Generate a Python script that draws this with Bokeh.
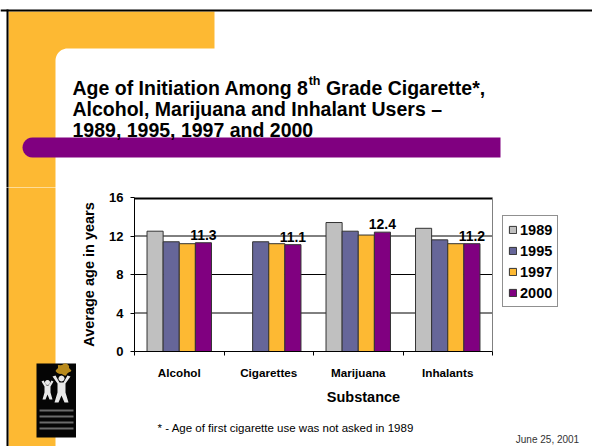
import math
import numpy as np
from bokeh.plotting import figure
from bokeh.layouts import column, row
from bokeh.models import (Range1d, FixedTicker, ColumnDataSource, Legend, LegendItem)
from bokeh.transform import dodge
from bokeh.core.properties import value
from bokeh.embed import file_html
from bokeh.resources import INLINE

# ---------------- data ----------------
categories = ["Alcohol", "Cigarettes", "Marijuana", "Inhalants"]
years = ["1989", "1995", "1997", "2000"]
age_1989 = [12.5, float("nan"), 13.4, 12.8]   # not asked for cigarettes in 1989
age_1995 = [11.4, 11.4, 12.5, 11.6]
age_1997 = [11.2, 11.2, 12.1, 11.2]
age_2000 = [11.3, 11.1, 12.4, 11.2]
y_ticks = [0, 4, 8, 12, 16]
y_max = 16

title_line1a = "Age of Initiation Among 8"
title_sup = "th"
title_line1b = "Grade Cigarette*,"
title_line2 = "Alcohol, Marijuana and Inhalant Users \u2013"
title_line3 = "1989, 1995, 1997 and 2000"
x_title = "Substance"
y_title = "Average age in years"
footnote = "* - Age of first cigarette use was not asked in 1989"
date_text = "June 25, 2001"

series_colors = ["#C0C0C0", "#666699", "#FDB933", "#800080"]
FONT = "Liberation Sans"
ORANGE = "#FDB933"
PURPLE = "#800080"

n_cat = len(categories)
cat_centers = [i + 0.5 for i in range(n_cat)]   # category slots on a 0..n axis
cat_edges = list(range(n_cat + 1))


# ---------------- helpers for the slide decoration panels ----------------
def panel(x0, y0, w, h):
    """A plain drawing surface whose data units are page pixels (y down)."""
    f = figure(width=w, height=h, x_range=Range1d(x0, x0 + w), y_range=Range1d(y0 + h, y0),
               output_backend="svg", toolbar_location=None, title=None,
               x_axis_location=None, y_axis_location=None, min_border=0)
    f.outline_line_color = None
    f.background_fill_color = "white"
    f.border_fill_color = "white"
    f.xgrid.grid_line_color = None
    f.ygrid.grid_line_color = None
    return f


def arc(cx, cy, r, a0, a1, n=12):
    pts = []
    for i in range(n + 1):
        a = math.radians(a0 + (a1 - a0) * i / n)
        pts.append((cx + r * math.cos(a), cy + r * math.sin(a)))
    return pts


def poly(f, pts, color, alpha=1.0):
    f.patch([q[0] for q in pts], [q[1] for q in pts], fill_color=color, fill_alpha=alpha,
            line_color=None)


def box(f, l, t, r, b, color):
    f.quad(left=l, right=r, top=t, bottom=b, fill_color=color, line_color=None)


def txt(f, x, y, s, size, bold=True, color="black", align="left"):
    f.text(x=[x], y=[y], text=[s], text_font=value(FONT), text_font_size=size,
           text_font_style="bold" if bold else "normal", text_color=color,
           text_align=align, text_baseline="alphabetic")


TOP_H = 187          # height of the title panel
LEFT_W = 76          # width of the left strip
CHART_H = 228        # height of the chart figure
BOT_H = 446 - TOP_H - CHART_H

# ---------------- top panel: border, orange band, title, purple bar ----------------
top = panel(0, 0, 592, TOP_H)
orange_top = [(8, 11), (214, 11), (214, 48), (67, 48)] + arc(67, 60, 12, 270, 180) + [(55, TOP_H + 2), (8, TOP_H + 2)]
poly(top, orange_top, ORANGE)
box(top, 0, 9, 592, 11, "black")
box(top, 6, 9, 8, TOP_H + 2, "black")
purple_pts = [(500, 137), (32, 137)] + arc(32, 147, 10, 270, 90) + [(32, 157), (500, 157)]
poly(top, purple_pts, PURPLE)

TS = 19.5
w1 = 12.112 * TS   # advance of "Age of Initiation Among 8" in Arial bold
SUP = 12.5
txt(top, 72, 87, title_line1a, "%.1fpx" % TS)
txt(top, 72 + w1, 80, title_sup, "%.1fpx" % SUP)
txt(top, 72 + w1 + 0.944 * SUP + 0.278 * TS, 87, title_line1b, "%.1fpx" % TS)
txt(top, 72, 108, title_line2, "%.1fpx" % TS)
txt(top, 72, 129, title_line3, "%.1fpx" % TS)

# ---------------- left strip: orange band and logo ----------------
left = panel(0, TOP_H, LEFT_W, 446 - TOP_H)
box(left, 8, TOP_H - 2, 55, 446, ORANGE)
box(left, 6, TOP_H - 2, 8, 446, "black")
box(left, 36, 363, 76, 437, "#050505")
poly(left, [(63 + 7 * math.cos(a) * (1 + 0.18 * math.sin(5 * a)),
             369 + 5.5 * math.sin(a) * (1 + 0.18 * math.cos(5 * a)))
            for a in np.linspace(0, 2 * math.pi, 30)], "#B88A1C")
fig_small = [(41, 381), (44, 386), (44, 392), (42, 399), (45, 399), (47, 394), (49, 399), (52, 399),
             (50, 392), (50, 386), (53, 381), (51, 380), (48, 385), (46, 385), (43, 380)]
poly(left, fig_small, "#E8E8E8")
poly(left, arc(47, 382, 2.5, 0, 360), "#E8E8E8")
fig_big = [(52, 376), (57, 383), (57, 392), (54, 402), (58, 402), (61, 395), (64, 402), (68, 402),
           (65, 392), (65, 383), (70, 376), (67, 375), (63, 382), (59, 382), (55, 375)]
poly(left, fig_big, "#E8E8E8")
poly(left, arc(61, 378, 3, 0, 360), "#E8E8E8")
for yy in (409, 415, 421, 427):
    box(left, 39, yy, 73, yy + 2, "#6A6A6A")

# ---------------- chart ----------------
frame_w_px, cat_w_px = 458, 358          # frame runs on to the page edge; bars use 358 px
x_end = n_cat * frame_w_px / cat_w_px
p = figure(width=592 - LEFT_W, height=CHART_H, x_range=Range1d(0, x_end), y_range=Range1d(0, y_max),
           output_backend="svg", toolbar_location=None, title=None,
           min_border_left=134 - LEFT_W, min_border_right=0, min_border_top=197 - TOP_H,
           min_border_bottom=TOP_H + CHART_H - 351)
p.background_fill_color = "white"
p.border_fill_color = "white"
p.outline_line_color = None
p.xgrid.grid_line_color = None
p.ygrid.grid_line_color = None

ya = p.yaxis[0]
ya.ticker = FixedTicker(ticks=y_ticks)
ya.major_tick_out = 4
ya.major_tick_in = 0
ya.minor_tick_line_color = None
ya.axis_line_color = "black"
ya.major_tick_line_color = "black"
ya.major_label_text_font = FONT
ya.major_label_text_font_style = "bold"
ya.major_label_text_font_size = "13px"
ya.major_label_text_color = "black"
ya.major_label_standoff = 7
ya.axis_label = y_title
ya.axis_label_text_font = FONT
ya.axis_label_text_font_style = "bold"
ya.axis_label_text_font_size = "14.5px"
ya.axis_label_text_color = "black"
ya.axis_label_standoff = 9

xa = p.xaxis[0]
xa.bounds = (0, n_cat)
xa.ticker = FixedTicker(ticks=cat_centers, minor_ticks=cat_edges)
xa.major_label_overrides = {c: name for c, name in zip(cat_centers, categories)}
xa.major_tick_line_color = None
xa.major_tick_out = 0
xa.major_tick_in = 0
xa.minor_tick_out = 4
xa.minor_tick_in = 0
xa.minor_tick_line_color = "black"
xa.axis_line_color = "black"
xa.major_label_text_font = FONT
xa.major_label_text_font_style = "bold"
xa.major_label_text_font_size = "11.7px"
xa.major_label_text_color = "black"
xa.major_label_standoff = 10
xa.axis_label = x_title
xa.axis_label_text_font = FONT
xa.axis_label_text_font_style = "bold"
xa.axis_label_text_font_size = "14.5px"
xa.axis_label_text_color = "black"
xa.axis_label_standoff = 7

# gridlines and plot-area border limited to the category slots
grid_levels = [t for t in y_ticks if 0 < t < y_max]
p.segment(x0=[0] * len(grid_levels), x1=[n_cat] * len(grid_levels), y0=grid_levels,
          y1=grid_levels, line_color="black", line_width=1)
p.segment(x0=[0], x1=[n_cat], y0=[y_max], y1=[y_max], line_color="black", line_width=4)
p.segment(x0=[n_cat], x1=[n_cat], y0=[0], y1=[y_max], line_color="#808080", line_width=1)

bw = 0.18
offsets = [-1.5 * bw, -0.5 * bw, 0.5 * bw, 1.5 * bw]
series = [age_1989, age_1995, age_1997, age_2000]
renderers = []
for vals, off, col in zip(series, offsets, series_colors):
    src = ColumnDataSource(dict(x=cat_centers, v=np.array(vals, dtype=float)))
    r = p.vbar(x=dodge("x", off), top="v", bottom=0, width=bw,
               source=src, fill_color=col, line_color="#333333", line_width=1)
    renderers.append(r)

lsrc = ColumnDataSource(dict(x=cat_centers, v=np.array(age_2000, dtype=float),
                             t=["%.1f" % v for v in age_2000]))
p.text(x=dodge("x", offsets[3]), y="v", text="t", source=lsrc,
       text_font=value(FONT), text_font_style="bold", text_font_size="14px",
       text_color="black", text_align="center", text_baseline="alphabetic", y_offset=-8)

legend = Legend(items=[LegendItem(label=y, renderers=[r]) for y, r in zip(years, renderers)],
                location=(368, 44), orientation="vertical",
                label_text_font=FONT, label_text_font_style="bold", label_text_font_size="14.5px",
                label_text_color="black", glyph_width=9, glyph_height=9, label_standoff=3,
                label_height=17, spacing=4, padding=5, margin=0,
                border_line_color="#222222", border_line_width=1,
                background_fill_color="white", background_fill_alpha=1)
p.add_layout(legend, "center")

# ---------------- bottom strip: footnote and date ----------------
bottom = panel(LEFT_W, TOP_H + CHART_H, 592 - LEFT_W, BOT_H)
txt(bottom, 102, 427, footnote, "11.5px", bold=False)
txt(bottom, 577, 439, date_text, "10px", bold=False, color="#333333", align="right")

layout = column(top, row(left, column(p, bottom, spacing=0), spacing=0), spacing=0)
open("out.html", "w").write(file_html(layout, INLINE))
